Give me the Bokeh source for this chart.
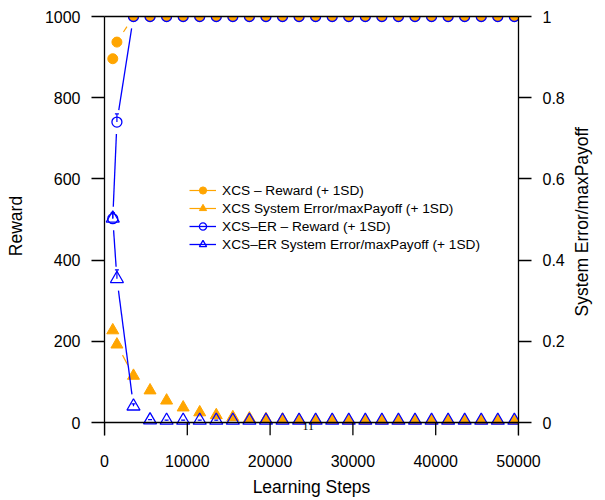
import math
from bokeh.plotting import figure
from bokeh.models import (Range1d, LinearAxis, FixedTicker, CustomJSTickFormatter, Legend,
                          LegendItem, ColumnDataSource, Whisker, TeeHead)
from bokeh.core.properties import value
from bokeh.embed import file_html
from bokeh.resources import INLINE

# ---------------- data ----------------
steps = [1000, 1500, 3500, 5500, 7500, 9500, 11500, 13500, 15500, 17500, 19500, 21500, 23500,
         25500, 27500, 29500, 31500, 33500, 35500, 37500, 39500, 41500, 43500, 45500, 47500, 49500]
xcs_reward = [896, 937, 1000, 1000, 1000, 1000, 1000, 1000, 1000, 1000, 1000, 1000, 1000,
              1000, 1000, 1000, 1000, 1000, 1000, 1000, 1000, 1000, 1000, 1000, 1000, 1000]
xcs_error = [0.227, 0.192, 0.115, 0.079, 0.054, 0.037, 0.025, 0.018, 0.013, 0.010, 0.008, 0.007, 0.006,
             0.006, 0.006, 0.005, 0.005, 0.005, 0.005, 0.005, 0.005, 0.005, 0.005, 0.005, 0.005, 0.005]
xcser_reward = [502, 740, 1000, 1000, 1000, 1000, 1000, 1000, 1000, 1000, 1000, 1000, 1000,
                1000, 1000, 1000, 1000, 1000, 1000, 1000, 1000, 1000, 1000, 1000, 1000, 1000]
xcser_reward_sd = [15, 20, 0, 0, 0, 0, 0, 0, 0, 0, 0, 0, 0,
                   0, 0, 0, 0, 0, 0, 0, 0, 0, 0, 0, 0, 0]
xcser_error = [0.503, 0.354, 0.040, 0.006, 0.005, 0.005, 0.005, 0.005, 0.005, 0.005, 0.005, 0.005, 0.005,
               0.005, 0.005, 0.005, 0.005, 0.005, 0.005, 0.005, 0.005, 0.005, 0.005, 0.005, 0.005, 0.005]
xcser_error_sd = [0.012, 0.022, 0.006, 0.001, 0.001, 0.001, 0.001, 0.001, 0.001, 0.001, 0.001, 0.001, 0.001,
                  0.001, 0.001, 0.001, 0.001, 0.001, 0.001, 0.001, 0.001, 0.001, 0.001, 0.001, 0.001, 0.001]

x_ticks = [0, 10000, 20000, 30000, 40000, 50000]
reward_ticks = [0, 200, 400, 600, 800, 1000]
error_ticks = [0, 0.2, 0.4, 0.6, 0.8, 1]

labels = ["XCS \u2013 Reward (+ 1SD)",
          "XCS System Error/maxPayoff (+ 1SD)",
          "XCS\u2013ER \u2013 Reward (+ 1SD)",
          "XCS\u2013ER System Error/maxPayoff (+ 1SD)"]
x_title = "Learning Steps"
y_title = "Reward"
y2_title = "System Error/maxPayoff"
page_note = "11"
page_note_pos = (24600, -7.4)

# ---------------- style ----------------
ORANGE = "#FFA500"
BLUE = "#0000FF"
FONT = "Liberation Sans"
TICK_FONT = "16px"
TITLE_PX = 17.5
X_MAX, R_MAX, E_MAX = 50000, 1000, 1
FRAME_W, PLOT_H = 415, 406          # pixel size of the 0..max data area
TICK_PX = 13                        # x tick length (drawn inside an extended frame)
GAP = 12                            # px gap around points (type="b")
R_MIN = -TICK_PX * R_MAX / PLOT_H
E_MIN = -TICK_PX * E_MAX / PLOT_H
Y2_TITLE_CENTER = 0.495             # vertical centre of right title, in error units
Y2_TITLE_EM = 10.84                 # width of right title in em (Arial metrics)


def gapped(xs, ys, ymax):
    sx = FRAME_W / X_MAX
    sy = PLOT_H / ymax
    out = dict(x0=[], y0=[], x1=[], y1=[])
    for xa, ya, xb, yb in zip(xs, ys, xs[1:], ys[1:]):
        d = math.hypot((xb - xa) * sx, (yb - ya) * sy)
        if d <= 2 * GAP:
            continue
        t = GAP / d
        out["x0"].append(xa + (xb - xa) * t)
        out["y0"].append(ya + (yb - ya) * t)
        out["x1"].append(xb - (xb - xa) * t)
        out["y1"].append(yb - (yb - ya) * t)
    return ColumnDataSource(out)


p = figure(width=605, height=500, x_range=Range1d(0, X_MAX), y_range=Range1d(R_MIN, R_MAX),
           output_backend="svg", toolbar_location=None,
           min_border_left=104, min_border_right=86, min_border_top=16,
           min_border_bottom=500 - 16 - PLOT_H - TICK_PX)
p.extra_y_ranges = {"err": Range1d(E_MIN, E_MAX)}
p.xgrid.visible = False
p.ygrid.visible = False
p.outline_line_color = None
p.background_fill_color = "white"
p.border_fill_color = "white"

# XCS reward
s1 = p.segment("x0", "y0", "x1", "y1", source=gapped(steps, xcs_reward, R_MAX),
               line_color=ORANGE, line_width=1.2)
m1 = p.scatter(steps, xcs_reward, marker="circle", size=10, fill_color=ORANGE, line_color=ORANGE)
# XCS error
s2 = p.segment("x0", "y0", "x1", "y1", source=gapped(steps, xcs_error, E_MAX),
               line_color=ORANGE, line_width=1.2, y_range_name="err")
m2 = p.scatter(steps, xcs_error, marker="triangle", size=12, fill_color=ORANGE, line_color=ORANGE,
               y_range_name="err")
# XCS-ER reward
s3 = p.segment("x0", "y0", "x1", "y1", source=gapped(steps, xcser_reward, R_MAX),
               line_color=BLUE, line_width=1.3)
m3 = p.scatter(steps, xcser_reward, marker="circle", size=10, fill_alpha=0, line_color=BLUE,
               line_width=1.3)
# XCS-ER error
s4 = p.segment("x0", "y0", "x1", "y1", source=gapped(steps, xcser_error, E_MAX),
               line_color=BLUE, line_width=1.3, y_range_name="err")
m4 = p.scatter(steps, xcser_error, marker="triangle", size=13, fill_alpha=0, line_color=BLUE,
               line_width=1.3, y_range_name="err")

# +1SD error bars
rw = [(x, y, s) for x, y, s in zip(steps, xcser_reward, xcser_reward_sd) if s > 0]
src_rw = ColumnDataSource(dict(x=[a for a, _, _ in rw], lo=[b for _, b, _ in rw],
                               up=[b + c for _, b, c in rw]))
p.add_layout(Whisker(source=src_rw, base="x", lower="lo", upper="up", dimension="height",
                     line_color=BLUE, line_width=1.2, lower_head=None,
                     upper_head=TeeHead(size=4, line_color=BLUE, line_width=1.2)))
er = [(x, y, s) for x, y, s in zip(steps, xcser_error, xcser_error_sd) if s > 0]
src_er = ColumnDataSource(dict(x=[a for a, _, _ in er], lo=[b for _, b, _ in er],
                               up=[b + c for _, b, c in er]))
p.add_layout(Whisker(source=src_er, base="x", lower="lo", upper="up", dimension="height",
                     y_range_name="err", line_color=BLUE, line_width=1.2, lower_head=None,
                     upper_head=TeeHead(size=4, line_color=BLUE, line_width=1.2)))

# x axis line at y=0 and its outward ticks (inside extended frame)
p.segment(x0=[x_ticks[0]], y0=[0], x1=[x_ticks[-1]], y1=[0], line_color="black", line_width=1.3)
p.segment(x0=x_ticks, y0=[0] * len(x_ticks), x1=x_ticks, y1=[R_MIN] * len(x_ticks),
          line_color="black", line_width=1.3)

# stray page number printed under the axis
p.text(x=[page_note_pos[0]], y=[page_note_pos[1]], text=[page_note], text_align="center",
       text_baseline="middle", text_font=value("Liberation Serif"), text_font_size="12px",
       text_color="black")


def style_axis(ax, ticks, standoff):
    ax.ticker = FixedTicker(ticks=ticks)
    ax.major_tick_out = 13
    ax.major_tick_in = 0
    ax.minor_tick_line_color = None
    ax.axis_line_color = "black"
    ax.axis_line_width = 1.3
    ax.major_tick_line_color = "black"
    ax.major_tick_line_width = 1.3
    ax.major_label_text_font = FONT
    ax.major_label_text_font_size = TICK_FONT
    ax.major_label_text_color = "black"
    ax.major_label_standoff = standoff
    ax.axis_label_text_font = FONT
    ax.axis_label_text_font_size = f"{TITLE_PX}px"
    ax.axis_label_text_font_style = "normal"
    ax.axis_label_text_color = "black"


xa = p.xaxis[0]
style_axis(xa, x_ticks, 19)
xa.axis_line_color = None
xa.major_tick_line_color = None
xa.major_tick_out = 0
xa.axis_label = x_title
xa.axis_label_standoff = 7

ya = p.yaxis[0]
style_axis(ya, reward_ticks, 11)
ya.axis_label = y_title
ya.axis_label_standoff = 16

ra = LinearAxis(y_range_name="err",
                formatter=CustomJSTickFormatter(code="return String(tick)"))
style_axis(ra, error_ticks, 11)
p.add_layout(ra, "right")

# right-hand title, drawn as a rotated (bottom-to-top) label of an extra right axis
y2_start = Y2_TITLE_CENTER - (Y2_TITLE_EM * TITLE_PX / 2) / PLOT_H
rt = LinearAxis(y_range_name="err", ticker=FixedTicker(ticks=[y2_start]),
                formatter=CustomJSTickFormatter(args=dict(t=y2_title), code="return t"),
                axis_line_color=None, major_tick_line_color=None, minor_tick_line_color=None,
                major_tick_out=0, major_tick_in=0, major_label_standoff=15,
                major_label_orientation=math.pi / 2,
                major_label_text_font=FONT, major_label_text_font_size=f"{TITLE_PX}px",
                major_label_text_color="black")
p.add_layout(rt, "right")

top = LinearAxis(ticker=FixedTicker(ticks=[]), axis_line_color="black", axis_line_width=1.3,
                 major_tick_line_color=None, minor_tick_line_color=None,
                 major_label_text_font_size="0px", major_tick_out=0, major_label_standoff=0)
p.add_layout(top, "above")

legend = Legend(items=[LegendItem(label=labels[0], renderers=[s1, m1]),
                       LegendItem(label=labels[1], renderers=[s2, m2]),
                       LegendItem(label=labels[2], renderers=[s3, m3]),
                       LegendItem(label=labels[3], renderers=[s4, m4])],
                location=(85, 169 + TICK_PX), padding=0, margin=0, spacing=0,
                glyph_width=27, glyph_height=18, label_height=18, label_standoff=6,
                label_text_font=FONT, label_text_font_size="13.7px", label_text_color="black",
                background_fill_alpha=0, border_line_alpha=0)
p.add_layout(legend)

open("out.html", "w").write(file_html(p, INLINE))
